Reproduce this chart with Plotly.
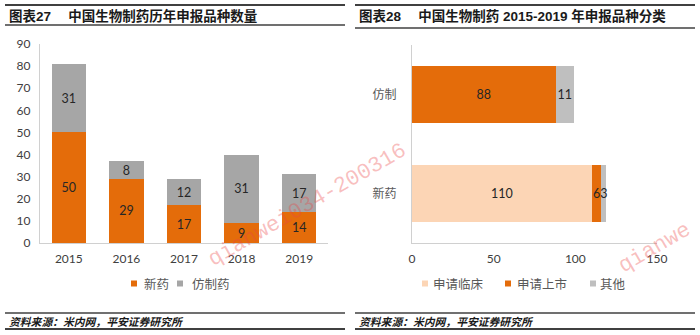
import plotly.graph_objects as go

# ---------------- data ----------------
years = ["2015", "2016", "2017", "2018", "2019"]
new_drugs = [50, 29, 17, 9, 14]
generics = [31, 8, 12, 31, 17]

types = ["新药", "仿制"]
clinical = [110, None]
market = [6, 88]
other = [3, 11]

left_title = "图表27　 中国生物制药历年申报品种数量"
right_title = "图表28　 中国生物制药 2015-2019 年申报品种分类"
source_text = "资料来源：米内网，平安证券研究所"
watermark = "qianwei034-200316"
watermark_part = "qianwe"

ORANGE = "#E46C0A"
GRAY_L = "#A6A6A6"
PEACH = "#FCD5B5"
GRAY_R = "#BFBFBF"
NUMF = "Lato"
CJK = "Noto Sans CJK SC"
TITLEF = "Liberation Sans, Noto Sans CJK SC"
W, H = 700, 335


def px(x):
    return x / W


def py(y):
    return 1 - y / H


def lab(v):
    return ["" if a is None else str(a) for a in v]


fig = go.Figure()

bar_text = dict(textposition="inside", insidetextanchor="middle", constraintext="none",
                textangle=0, textfont=dict(family=NUMF, size=12.5, color="#262626"),
                showlegend=False)

# ---------- left chart ----------
left_series = [(new_drugs, "新药", ORANGE), (generics, "仿制药", GRAY_L)]
for vals, name, col in left_series:
    fig.add_trace(go.Bar(x=years, y=vals, name=name, marker_color=col, text=lab(vals),
                         xaxis="x", yaxis="y", width=0.6, **bar_text))

# ---------- right chart ----------
right_series = [(clinical, "申请临床", PEACH), (market, "申请上市", ORANGE), (other, "其他", GRAY_R)]
for vals, name, col in right_series:
    fig.add_trace(go.Bar(y=types, x=vals, name=name, orientation="h", marker_color=col,
                         text=lab(vals), xaxis="x2", yaxis="y2", width=0.58, **bar_text))

axis_common = dict(showgrid=False, zeroline=False, ticks="", linecolor="#D0D0D0", linewidth=1.3,
                   showline=True, fixedrange=True, automargin=False)

fig.update_layout(
    template="none",
    width=W, height=H, margin=dict(l=0, r=0, t=0, b=0, autoexpand=False),
    paper_bgcolor="white", plot_bgcolor="white",
    barmode="stack", showlegend=False,
    xaxis=dict(domain=[px(40), px(328)], range=[-0.5, 4.5], type="category", anchor="y",
               tickfont=dict(family=NUMF, size=12, color="#404040"), ticklabelstandoff=4,
               **axis_common),
    yaxis=dict(domain=[py(243), py(44)], range=[0, 90], dtick=10, anchor="x",
               tickfont=dict(family=NUMF, size=12, color="#404040"), ticklabelstandoff=6,
               **axis_common),
    xaxis2=dict(domain=[px(412), px(657)], range=[0, 150], dtick=50, anchor="y2",
                tickfont=dict(family=NUMF, size=12, color="#404040"), ticklabelstandoff=4,
                **axis_common),
    yaxis2=dict(domain=[py(243), py(45)], range=[-0.5, 1.5], type="category", anchor="x2",
                categoryorder="array", categoryarray=types,
                tickfont=dict(family=CJK, size=12, color="#595959"), ticklabelstandoff=12,
                **axis_common),
)

# ---------- frame lines ----------
shapes = []
for x0, x1, ytop, ybot in [(5, 345, 5, 25), (355, 695, 5, 28)]:
    shapes.append(dict(type="line", xref="paper", yref="paper", x0=px(x0), x1=px(x1),
                       y0=py(ytop), y1=py(ytop), line=dict(color="#404040", width=2)))
    shapes.append(dict(type="line", xref="paper", yref="paper", x0=px(x0), x1=px(x1),
                       y0=py(ybot), y1=py(ybot), line=dict(color="#404040", width=1.5)))
    shapes.append(dict(type="line", xref="paper", yref="paper", x0=px(x0), x1=px(x1),
                       y0=py(313), y1=py(313), line=dict(color="#404040", width=1.5)))
    shapes.append(dict(type="line", xref="paper", yref="paper", x0=px(x0), x1=px(x1),
                       y0=py(329), y1=py(329), line=dict(color="#404040", width=2)))

ann = []
# ---------- legends (key squares + labels) ----------
legend_left = [(131, 142), (177, 190)]
legend_right = [(422, 431), (505, 515), (590, 598)]
for (sx, tx), (_, name, col) in list(zip(legend_left, left_series)) + list(zip(legend_right, right_series)):
    shapes.append(dict(type="rect", xref="paper", yref="paper", x0=px(sx), x1=px(sx + 6),
                       y0=py(286.5), y1=py(280.5), fillcolor=col, line=dict(width=0)))
    ann.append(dict(text=name, xref="paper", yref="paper", x=px(tx), y=py(283.5),
                    xanchor="left", yanchor="middle", showarrow=False,
                    font=dict(family=CJK, size=12.5, color="#595959")))
fig.update_layout(shapes=shapes)

# ---------- titles & sources ----------
ann.append(dict(text="<b>" + left_title + "</b>", xref="paper", yref="paper", x=px(7), y=py(16),
                xanchor="left", yanchor="middle", showarrow=False,
                font=dict(family=TITLEF, size=13.5, color="#1a1a1a")))
ann.append(dict(text="<b>" + right_title + "</b>", xref="paper", yref="paper", x=px(357), y=py(16),
                xanchor="left", yanchor="middle", showarrow=False,
                font=dict(family=TITLEF, size=13.5, color="#1a1a1a")))
for x0 in (7, 357):
    ann.append(dict(text="<b><i>" + source_text + "</i></b>", xref="paper", yref="paper",
                    x=px(x0), y=py(321), xanchor="left", yanchor="middle", showarrow=False,
                    font=dict(family=CJK, size=10.8, color="#1a1a1a")))
# ---------- watermarks ----------
for txt, cx, cy in [(watermark, 307, 205), (watermark_part, 654, 248)]:
    ann.append(dict(text=txt, xref="paper", yref="paper", x=px(cx), y=py(cy),
                    xanchor="center", yanchor="middle", showarrow=False, textangle=-30,
                    font=dict(family="Liberation Mono", size=22, color="rgba(235,70,70,0.35)")))
fig.update_layout(annotations=ann)

fig.write_html("out.html")
